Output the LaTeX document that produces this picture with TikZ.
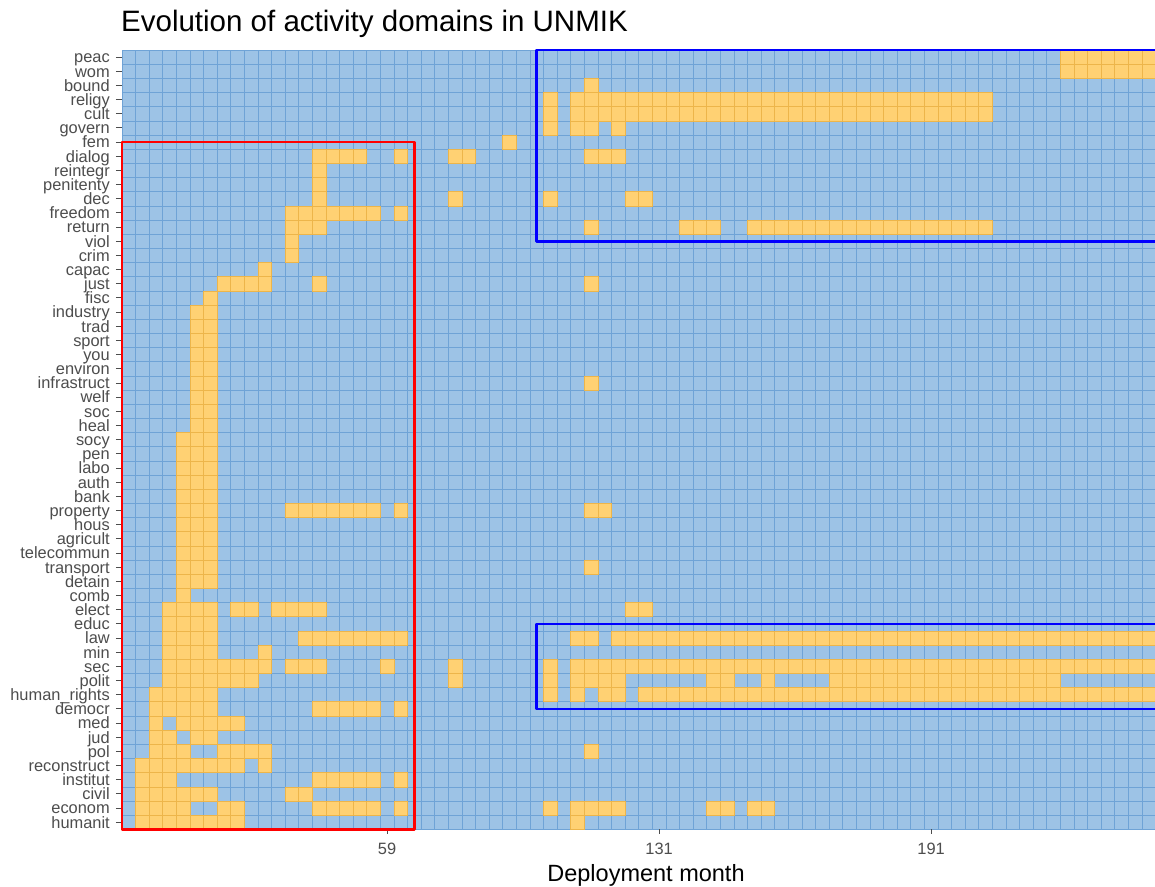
\documentclass[tikz,border=0pt]{standalone}
\usepackage{fontspec}
\setmainfont{Liberation Sans}
\definecolor{tilebg}{HTML}{9DC3E6}
\definecolor{tileline}{HTML}{6FA3D6}
\definecolor{tileon}{HTML}{FFD173}
\definecolor{tileonline}{HTML}{EDB54A}
\definecolor{axisgrey}{HTML}{4D4D4D}
\begin{document}
\begin{tikzpicture}[x=1pt, y=-1pt, line join=round,
	ylab/.style={anchor=base east, inner sep=0pt, text=axisgrey, font=\fontsize{16.4}{18}\selectfont},
	xlab/.style={anchor=base, inner sep=0pt, text=axisgrey, font=\fontsize{16.4}{18}\selectfont},
	on/.style={fill=tileon, draw=tileonline, line width=0.7pt},
	frame/.style={line width=2.6pt}]
	\clip (0,0) rectangle (1155,886);
	\fill[white] (0,0) rectangle (1155,886);
	\node[anchor=base west, inner sep=0pt, font=\fontsize{29.5}{32}\selectfont] (title) at (121,31) {Evolution of activity domains in UNMIK};
	\begin{scope}[shift={(121.9,50)}, x=13.6pt, y=-14.17pt]
		\def\ncol{76} \def\nrow{55}
		\fill[tilebg] (0,0) rectangle (\ncol,\nrow);
		\foreach \c in {0,...,\ncol} \draw[tileline, line width=0.7pt] (\c,0) -- (\c,\nrow);
		\foreach \r in {0,...,\nrow} \draw[tileline, line width=0.7pt] (0,\r) -- (\ncol,\r);
		% row / first month / last month
		\foreach \r/\a/\b in {0/70/76, 1/70/76, 2/35/35, 3/32/32, 3/34/64, 4/32/32, 4/34/64,
			5/32/32, 5/34/35, 5/37/37, 6/29/29, 7/15/18, 7/21/21, 7/25/26, 7/35/37,
			8/15/15, 9/15/15, 10/15/15, 10/25/25, 10/32/32, 10/38/39, 11/13/19, 11/21/21,
			12/13/15, 12/35/35, 12/42/44, 12/47/64, 13/13/13, 14/13/13, 15/11/11,
			16/8/11, 16/15/15, 16/35/35, 17/7/7, 18/6/7, 19/6/7, 20/6/7, 21/6/7, 22/6/7,
			23/6/7, 23/35/35, 24/6/7, 25/6/7, 26/6/7, 27/5/7, 28/5/7, 29/5/7, 30/5/7, 31/5/7,
			32/5/7, 32/13/19, 32/21/21, 32/35/36, 33/5/7, 34/5/7, 35/5/7, 36/5/7, 36/35/35,
			37/5/7, 38/5/5, 39/4/7, 39/9/10, 39/12/15, 39/38/39, 40/4/7,
			41/4/7, 41/14/21, 41/34/35, 41/37/76, 42/4/7, 42/11/11,
			43/4/11, 43/13/15, 43/20/20, 43/25/25, 43/32/32, 43/34/76,
			44/4/10, 44/25/25, 44/32/32, 44/34/37, 44/44/45, 44/48/48, 44/53/69,
			45/3/7, 45/32/32, 45/34/34, 45/36/37, 45/39/76, 46/3/7, 46/15/19, 46/21/21,
			47/3/3, 47/5/9, 48/3/4, 48/6/7, 49/3/5, 49/8/11, 49/35/35, 50/2/9, 50/11/11,
			51/2/4, 51/15/19, 51/21/21, 52/2/7, 52/13/14,
			53/2/5, 53/8/9, 53/15/19, 53/21/21, 53/32/32, 53/34/37, 53/44/45, 53/47/48,
			54/2/9, 54/34/34}
			\foreach \c in {\a,...,\b} \draw[on] (\c-1,\r) rectangle (\c,\r+1);
		\foreach \n [count=\r from 0] in {peac, wom, bound, religy, cult, govern, fem, dialog,
			reintegr, penitenty, dec, freedom, return, viol, crim, capac, just, fisc, industry,
			trad, sport, you, environ, infrastruct, welf, soc, heal, socy, pen, labo, auth, bank,
			property, hous, agricult, telecommun, transport, detain, comb, elect, educ, law, min,
			sec, polit, human\_rights, democr, med, jud, pol, reconstruct, institut, civil,
			econom, humanit}
		{
			\draw[axisgrey, line width=1pt] (-0.45,\r+0.5) -- (0,\r+0.5);
			\node[ylab] (row\r) at (-0.88,\r+0.91) {\n};
		}
		\foreach \c/\m in {20/59, 40/131, 60/191}
		{
			\draw[axisgrey, line width=1pt] (\c-0.5,\nrow) -- (\c-0.5,\nrow+0.3);
			\node[xlab] (month\m) at (\c-0.5,56.8) {\m};
		}
		\draw[red, frame] (0,6.5) rectangle (21.5,\nrow);
		\draw[blue, frame] (30.5,0) rectangle (78,13.5);
		\draw[blue, frame] (30.5,40.5) rectangle (78,46.5);
	\end{scope}
	\node[anchor=base, inner sep=0pt, font=\fontsize{23.5}{26}\selectfont] (xtitle) at (646,881) {Deployment month};
\end{tikzpicture}
\end{document}
